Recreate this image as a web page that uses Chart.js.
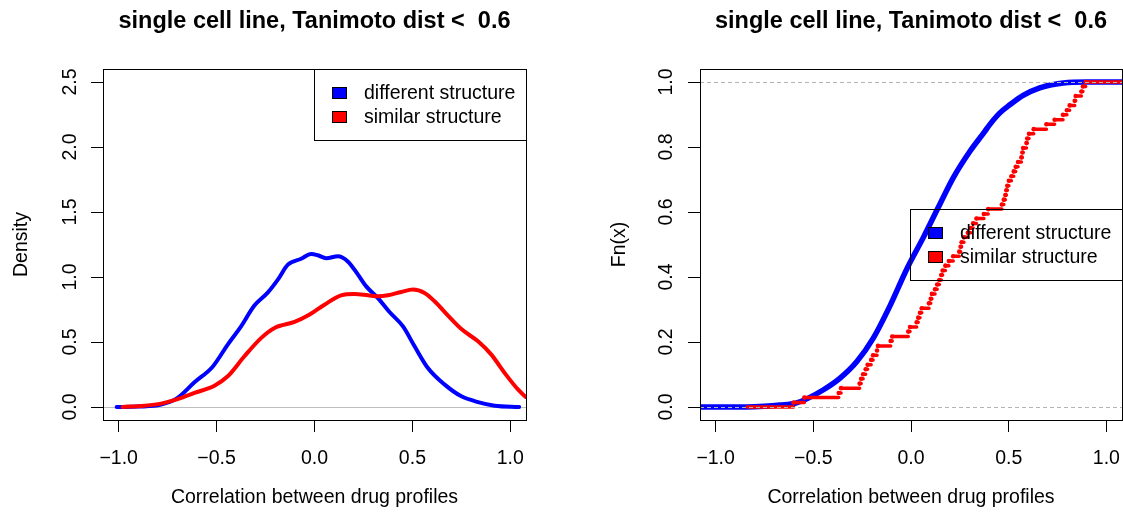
<!DOCTYPE html>
<html>
<head>
<meta charset="utf-8">
<script src="https://cdn.jsdelivr.net/npm/chart.js@4.4.1/dist/chart.umd.min.js"></script>
<style>
  html, body { margin: 0; padding: 0; background: #fff; }
  #wrap { position: relative; width: 1123px; height: 517px; }
  .panel { position: absolute; top: 0; }
  #left { left: 0; }
  #right { left: 561px; }
</style>
</head>
<body>
<div id="wrap">
  <div class="panel" id="left"><canvas id="densityChart" width="561" height="517"></canvas></div>
  <div class="panel" id="right"><canvas id="ecdfChart" width="562" height="517"></canvas></div>
</div>
<script>
const plotTitle = 'single cell line, Tanimoto dist <  0.6';
const xAxisTitle = 'Correlation between drug profiles';
const seriesNames = ['different structure', 'similar structure'];
const seriesColors = ['#0000ff', '#ff0000'];

const xMin = -1.08;
const xMax = 1.08;
const xTicks = [-1, -0.5, 0, 0.5, 1];
const xTickLabels = ['\u22121.0', '\u22120.5', '0.0', '0.5', '1.0'];
const densityTicks = [0, 0.5, 1, 1.5, 2, 2.5];
const densityTickLabels = ['0.0', '0.5', '1.0', '1.5', '2.0', '2.5'];
const ecdfTicks = [0, 0.2, 0.4, 0.6, 0.8, 1];
const ecdfTickLabels = ['0.0', '0.2', '0.4', '0.6', '0.8', '1.0'];

// density curves (left panel)
const diffDensX = [-1.01, -0.9, -0.784, -0.699, -0.613, -0.52, -0.443, -0.375, -0.307, -0.239, -0.187, -0.136, -0.068, -0.017, 0.017, 0.06, 0.119, 0.17, 0.222, 0.264, 0.324, 0.383, 0.452, 0.511, 0.579, 0.665, 0.75, 0.835, 0.92, 1.045];
const diffDensY = [0, 0.003, 0.018, 0.07, 0.19, 0.31, 0.48, 0.62, 0.78, 0.88, 0.98, 1.095, 1.14, 1.177, 1.167, 1.144, 1.159, 1.12, 1.018, 0.928, 0.838, 0.731, 0.62, 0.467, 0.3, 0.172, 0.082, 0.038, 0.01, 0];
const simDensX = [-0.98, -0.869, -0.784, -0.699, -0.613, -0.511, -0.443, -0.358, -0.273, -0.204, -0.102, -0.034, 0.051, 0.136, 0.204, 0.273, 0.324, 0.375, 0.443, 0.503, 0.562, 0.613, 0.682, 0.75, 0.835, 0.903, 0.971, 1.04, 1.079];
const simDensY = [0, 0.01, 0.026, 0.06, 0.108, 0.164, 0.236, 0.39, 0.53, 0.608, 0.654, 0.703, 0.787, 0.859, 0.869, 0.859, 0.851, 0.859, 0.885, 0.903, 0.877, 0.813, 0.703, 0.6, 0.505, 0.403, 0.262, 0.133, 0.077];

// ECDF of the different-structure pairs (dense, reads as a smooth band)
const diffEcdfX = [-1.08, -0.84, -0.75, -0.67, -0.59, -0.533, -0.448, -0.363, -0.277, -0.193, -0.107, -0.022, 0.066, 0.138, 0.216, 0.301, 0.378, 0.403, 0.455, 0.506, 0.574, 0.659, 0.744, 0.829, 0.9, 1.08];
const diffEcdfY = [0, 0, 0.002, 0.006, 0.012, 0.025, 0.053, 0.089, 0.14, 0.212, 0.312, 0.424, 0.525, 0.612, 0.705, 0.786, 0.848, 0.869, 0.905, 0.93, 0.959, 0.982, 0.994, 0.999, 1, 1];

// ECDF of the similar-structure pairs: where each step starts and its level
const simEcdfStart = -0.839;
const simJumps = [-0.601, -0.546, -0.37, -0.358, -0.263, -0.255, -0.245, -0.232, -0.222, -0.204, -0.194, -0.174, -0.169, -0.104, -0.096, -0.014, -0.005, 0.029, 0.037, 0.046, 0.055, 0.092, 0.101, 0.107, 0.123, 0.134, 0.145, 0.155, 0.162, 0.176, 0.194, 0.216, 0.247, 0.254, 0.259, 0.271, 0.291, 0.306, 0.318, 0.335, 0.373, 0.395, 0.465, 0.475, 0.483, 0.488, 0.493, 0.501, 0.514, 0.526, 0.536, 0.548, 0.565, 0.57, 0.574, 0.591, 0.595, 0.604, 0.628, 0.693, 0.735, 0.778, 0.798, 0.812, 0.838, 0.843, 0.872, 0.88, 0.894];
const simLevels = [0.014, 0.029, 0.043, 0.058, 0.072, 0.087, 0.101, 0.116, 0.13, 0.145, 0.159, 0.174, 0.188, 0.203, 0.217, 0.232, 0.246, 0.261, 0.275, 0.29, 0.304, 0.319, 0.333, 0.348, 0.362, 0.377, 0.391, 0.406, 0.42, 0.435, 0.449, 0.464, 0.478, 0.493, 0.507, 0.522, 0.536, 0.551, 0.565, 0.58, 0.594, 0.609, 0.623, 0.638, 0.652, 0.667, 0.681, 0.696, 0.71, 0.725, 0.739, 0.754, 0.768, 0.783, 0.797, 0.812, 0.826, 0.841, 0.855, 0.87, 0.884, 0.899, 0.913, 0.928, 0.942, 0.957, 0.971, 0.986, 1];

const FONT = "'Liberation Sans', Arial, Helvetica, sans-serif";
Chart.defaults.font.family = FONT;
Chart.defaults.color = '#000';

const toPoints = (xs, ys) => xs.map((x, i) => ({ x, y: ys[i] }));

// horizontal pieces of a step function, broken by gaps so no verticals are drawn
function stepSegments(start, jumps, levels, end) {
  const pts = [{ x: start, y: 0 }, { x: jumps[0], y: 0 }];
  jumps.forEach((jx, i) => {
    const next = i + 1 < jumps.length ? jumps[i + 1] : end;
    pts.push({ x: null, y: null }, { x: jx, y: levels[i] }, { x: next, y: levels[i] });
  });
  return pts;
}

const rStyle = {
  id: 'rStyle',
  beforeDatasetsDraw(chart, args, opts) {
    if (!opts.zeroLine) return;
    const { ctx, chartArea: a, scales: { y } } = chart;
    const py = Math.round(y.getPixelForValue(0)) + 0.5;
    ctx.save();
    ctx.strokeStyle = '#bebebe';
    ctx.lineWidth = 1;
    ctx.beginPath();
    ctx.moveTo(a.left, py);
    ctx.lineTo(a.right, py);
    ctx.stroke();
    ctx.restore();
  },
  afterDatasetsDraw(chart, args, opts) {
    const { ctx, chartArea: a, scales: { y } } = chart;
    ctx.save();
    (opts.refLines || []).forEach((v) => {
      const py = Math.round(y.getPixelForValue(v)) + 0.5;
      ctx.strokeStyle = '#b3b3b3';
      ctx.lineWidth = 1;
      ctx.setLineDash([4, 3]);
      ctx.beginPath();
      ctx.moveTo(a.left, py);
      ctx.lineTo(a.right, py);
      ctx.stroke();
    });
    ctx.setLineDash([]);
    ctx.restore();
  },
  afterDraw(chart, args, opts) {
    const { ctx, chartArea: a, scales: { y } } = chart;
    ctx.save();
    ctx.strokeStyle = '#000';
    ctx.lineWidth = 1;
    ctx.strokeRect(a.left + 0.5, a.top + 0.5, a.right - a.left, a.bottom - a.top);

    // rotated y tick labels, as R draws them
    ctx.fillStyle = '#000';
    ctx.font = `19.5px ${FONT}`;
    ctx.textAlign = 'center';
    ctx.textBaseline = 'alphabetic';
    y.ticks.forEach((t, i) => {
      ctx.save();
      ctx.translate(a.left - opts.labelGap, y.getPixelForValue(t.value));
      ctx.rotate(-Math.PI / 2);
      ctx.fillText(opts.tickLabels[i], 0, 0);
      ctx.restore();
    });

    // legend box
    const w = 212;
    const h = 71;
    const bx = a.right - w;
    const by = opts.legend === 'right' ? Math.round((a.top + a.bottom) / 2 - h / 2) : a.top;
    ctx.strokeRect(bx + 0.5, by + 0.5, w, h);
    ctx.textAlign = 'left';
    ctx.textBaseline = 'middle';
    seriesNames.forEach((name, i) => {
      const cy = by + 24 + i * 24;
      ctx.fillStyle = seriesColors[i];
      ctx.fillRect(bx + 18, cy - 6, 15, 12);
      ctx.strokeRect(bx + 18.5, cy - 5.5, 14, 11);
      ctx.fillStyle = '#000';
      ctx.fillText(name, bx + 50, cy + 1);
    });
    ctx.restore();
  },
};

function baseOptions(cfg) {
  return {
    responsive: false,
    animation: false,
    layout: { autoPadding: false, padding: { top: 0, left: 0, right: cfg.padRight, bottom: 0 } },
    plugins: {
      legend: { display: false },
      tooltip: { enabled: false },
      title: {
        display: true,
        text: plotTitle,
        fullSize: false,
        color: '#000',
        font: { size: 23.5, weight: 'bold' },
        padding: { top: 7.6, bottom: 33.2 },
      },
      rStyle: cfg.rStyle,
    },
    scales: {
      x: {
        type: 'linear',
        min: xMin,
        max: xMax,
        afterBuildTicks: (scale) => { scale.ticks = xTicks.map((value) => ({ value })); },
        afterFit: (scale) => {
          scale.height = 97;
          scale.paddingLeft = 0;
          scale.paddingRight = 0;
        },
        border: { display: false },
        grid: { drawOnChartArea: false, drawTicks: true, tickLength: 12, color: '#000', tickColor: '#000' },
        ticks: {
          autoSkip: false,
          maxRotation: 0,
          padding: 15,
          font: { size: 19.5 },
          callback: (value, index) => xTickLabels[index],
        },
        title: { display: true, text: xAxisTitle, font: { size: 19.5 }, padding: { top: 0, bottom: 8 } },
      },
      y: {
        type: 'linear',
        min: cfg.yMin,
        max: cfg.yMax,
        afterBuildTicks: (scale) => { scale.ticks = cfg.yTicks.map((value) => ({ value })); },
        afterFit: (scale) => {
          scale.width = cfg.yWidth;
          scale.paddingTop = 0;
          scale.paddingBottom = 0;
        },
        border: { display: false },
        grid: { drawOnChartArea: false, drawTicks: true, tickLength: 12, color: '#000', tickColor: '#000' },
        ticks: { display: false },
        title: { display: true, text: cfg.yTitle, font: { size: 19.5 }, padding: { top: cfg.yTitlePad, bottom: 0 } },
      },
    },
  };
}

new Chart(document.getElementById('densityChart'), {
  type: 'scatter',
  data: {
    datasets: [
      {
        label: seriesNames[0],
        data: toPoints(diffDensX, diffDensY),
        showLine: true,
        borderColor: seriesColors[0],
        borderWidth: 4,
        pointRadius: 0,
        cubicInterpolationMode: 'monotone',
        borderCapStyle: 'round',
        clip: 0,
        order: 2,
      },
      {
        label: seriesNames[1],
        data: toPoints(simDensX, simDensY),
        showLine: true,
        borderColor: seriesColors[1],
        borderWidth: 4,
        pointRadius: 0,
        cubicInterpolationMode: 'monotone',
        borderCapStyle: 'round',
        clip: 0,
        order: 1,
      },
    ],
  },
  options: baseOptions({
    padRight: 35,
    yMin: -0.1,
    yMax: 2.6,
    yTicks: densityTicks,
    yWidth: 103,
    yTitle: 'Density',
    yTitlePad: 10.3,
    rStyle: { zeroLine: true, refLines: [], tickLabels: densityTickLabels, labelGap: 27.5, legend: 'topright' },
  }),
  plugins: [rStyle],
});

new Chart(document.getElementById('ecdfChart'), {
  type: 'scatter',
  data: {
    datasets: [
      {
        label: seriesNames[0],
        data: toPoints(diffEcdfX, diffEcdfY),
        showLine: true,
        borderColor: seriesColors[0],
        borderWidth: 5.5,
        pointRadius: 0,
        cubicInterpolationMode: 'monotone',
        clip: 0,
        order: 3,
      },
      {
        label: seriesNames[1],
        data: stepSegments(simEcdfStart, simJumps, simLevels, xMax),
        showLine: true,
        spanGaps: false,
        borderColor: seriesColors[1],
        borderWidth: 3.5,
        borderCapStyle: 'round',
        pointRadius: 0,
        clip: 0,
        order: 2,
      },
      {
        label: seriesNames[1] + ' points',
        data: toPoints(simJumps, simLevels),
        backgroundColor: seriesColors[1],
        borderWidth: 0,
        pointRadius: 2.3,
        clip: 0,
        order: 1,
      },
    ],
  },
  options: baseOptions({
    padRight: 1,
    yMin: -0.04,
    yMax: 1.04,
    yTicks: ecdfTicks,
    yWidth: 139,
    yTitle: 'Fn(x)',
    yTitlePad: 47.3,
    rStyle: { zeroLine: false, refLines: [0, 1], tickLabels: ecdfTickLabels, labelGap: 28, legend: 'right' },
  }),
  plugins: [rStyle],
});
</script>
</body>
</html>
